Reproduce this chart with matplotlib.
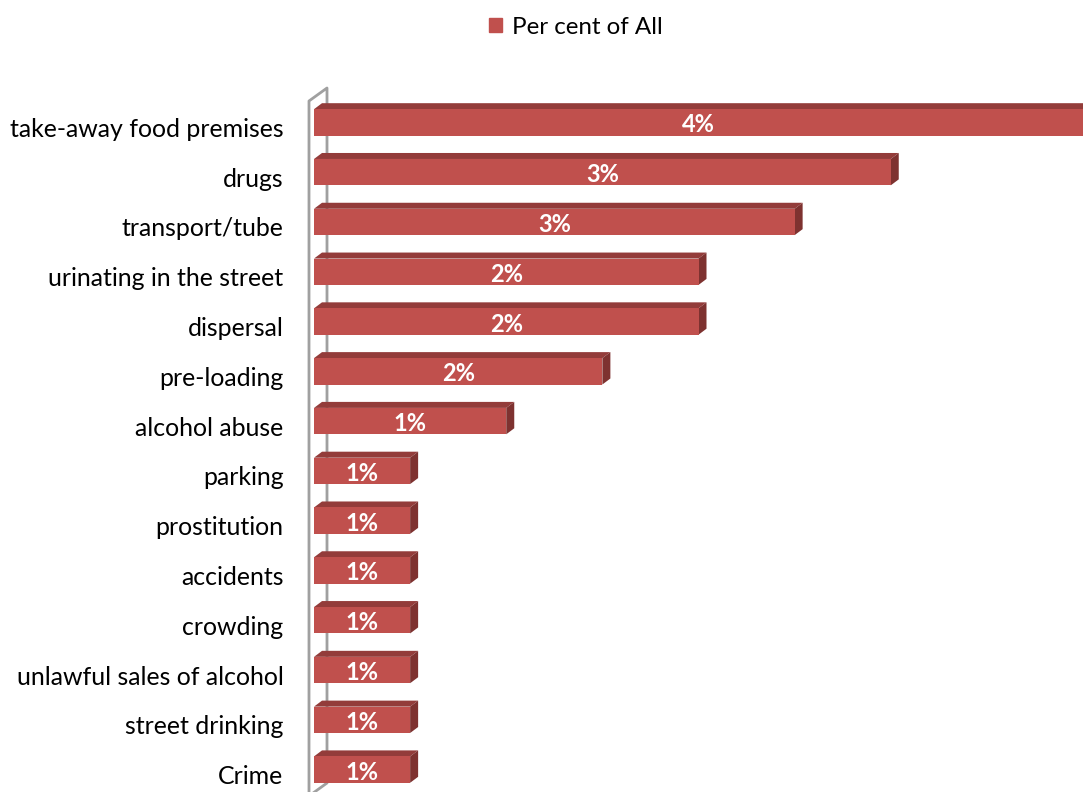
import matplotlib.pyplot as plt
import matplotlib.transforms as mtransforms
from matplotlib.patches import Polygon, Patch
from matplotlib.lines import Line2D

categories = ["take-away food premises", "drugs", "transport/tube",
              "urinating in the street", "dispersal", "pre-loading",
              "alcohol abuse", "parking", "prostitution", "accidents",
              "crowding", "unlawful sales of alcohol", "street drinking", "Crime"]
values = [4.4, 3.3, 2.75, 2.2, 2.2, 1.65, 1.1, 0.55, 0.55, 0.55, 0.55, 0.55, 0.55, 0.55]
labels = ["4%", "3%", "3%", "2%", "2%", "2%", "1%", "1%", "1%", "1%", "1%", "1%", "1%", "1%"]

FRONT = "#C0504D"
TOP = "#933C3A"
SIDE = "#7E3230"
W, H = 1083, 792
DPI = 100

plt.rcParams['font.family'] = ['Lato', 'DejaVu Sans']
fig = plt.figure(figsize=(W / DPI, H / DPI), dpi=DPI)

# axes in pixel terms: left 314, top 95, bottom 792, right edge
ax = fig.add_axes([314 / W, 0, 1 - 314 / W, (H - 95) / H])
ax.patch.set_alpha(0)
ypos = list(range(len(categories)))
ax.barh(ypos, values, height=0.53, color=FRONT, zorder=3)
ax.set_xlim(0, 4.4)
ax.set_ylim(13.45, -0.55)
ax.set_yticks(ypos)
ax.set_yticklabels(categories, fontsize=17.9, color="#000000")
ax.tick_params(axis='y', length=0, pad=22)
ax.set_xticks([])
for s in ax.spines.values():
    s.set_visible(False)

shift = mtransforms.ScaledTranslation(0, -5 / DPI, fig.dpi_scale_trans)
for t in ax.get_yticklabels():
    t.set_transform(t.get_transform() + shift)

# 3D faces in pixel offsets
fig.canvas.draw()
inv = ax.transData.inverted()
dx, dy = 8, 6
for y, v in zip(ypos, values):
    (x0, y0), (x1, y1) = ax.transData.transform([(0, y + 0.265), (v, y - 0.265)])
    top = [(x0, y1), (x1, y1), (x1 + dx, y1 + dy), (x0 + dx, y1 + dy)]
    side = [(x1, y0), (x1 + dx, y0 + dy), (x1 + dx, y1 + dy), (x1, y1)]
    ax.add_patch(Polygon(inv.transform(top), closed=True, color=TOP, lw=0, zorder=2))
    ax.add_patch(Polygon(inv.transform(side), closed=True, color=SIDE, lw=0, zorder=2))

for y, v, lab in zip(ypos, values, labels):
    ax.text(min(v, 4.4) / 2, y + 0.05, lab, ha='center', va='center',
            color='white', fontsize=17, fontweight='bold', zorder=5)

# side wall (behind the bars)
wall = [(309, 796), (309, 101), (327, 88), (327, 783), (309, 796)]
xs = [p[0] / W for p in wall]
ys = [1 - p[1] / H for p in wall]
fig.add_artist(Line2D(xs, ys, color="#A0A0A0", lw=2, transform=fig.transFigure, zorder=-1))

fig.legend(handles=[Patch(color=FRONT)], labels=["Per cent of All"],
           loc='center', bbox_to_anchor=(576 / W, 1 - 27 / H), frameon=False,
           fontsize=17.4, handlelength=0.55, handleheight=0.55, handletextpad=0.4)

fig.savefig("out.png", dpi=DPI)
